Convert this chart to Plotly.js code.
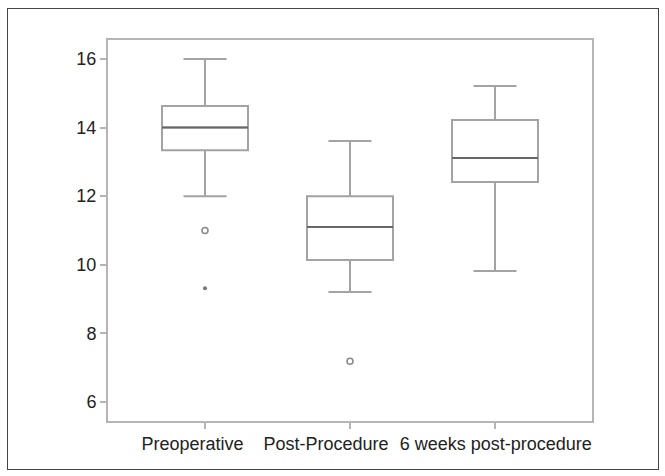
<!DOCTYPE html>
<html>
<head>
<meta charset="utf-8">
<script src="https://cdn.plot.ly/plotly-3.0.1.min.js"></script>
<style>
html,body{margin:0;padding:0;background:#fff;}
#wrap{position:relative;width:665px;height:476px;}
#chart{position:absolute;left:0;top:0;width:665px;height:476px;}
#frame{position:absolute;left:7px;top:8px;width:650px;height:460px;border:1px solid #444;pointer-events:none;}
</style>
</head>
<body>
<div id="wrap"><div id="chart"></div><div id="frame"></div></div>
<script>
// Data
const categories = ["Preoperative", "Post-Procedure", "6 weeks post-procedure"];
const lowerWhisker = [12.0, 9.21, 9.82];
const q1 = [13.34, 10.14, 12.41];
const median = [14.0, 11.10, 13.11];
const q3 = [14.63, 12.0, 14.22];
const upperWhisker = [16.0, 13.61, 15.21];
// outliers (circles) and extremes (stars)
const outlierGroup = [0, 1];
const outlierValue = [11.0, 7.19];
const extremeGroup = [0];
const extremeValue = [9.32];

const pos = categories.map((c, i) => i);
const boxWidth = 0.593;
// the reference nudges crowded labels to the left of their tick
const labelNudge = [-0.086, -0.166, 0.005];
const labelPos = pos.map((p, i) => p + labelNudge[i]);
const xRange = [-0.669, 2.669];

const traces = [];
traces.push({
  type: 'box',
  x: pos,
  q1: q1,
  median: median,
  q3: q3,
  lowerfence: lowerWhisker,
  upperfence: upperWhisker,
  width: boxWidth,
  whiskerwidth: 0.5,
  fillcolor: 'rgba(255,255,255,0)',
  line: {color: '#a3a3a3', width: 2},
  boxpoints: false,
  hoverinfo: 'skip',
  showlegend: false
});
// darker median lines
categories.forEach((c, i) => {
  traces.push({
    type: 'scatter', mode: 'lines',
    x: [pos[i] - boxWidth / 2, pos[i] + boxWidth / 2],
    y: [median[i], median[i]],
    line: {color: '#666666', width: 2},
    hoverinfo: 'skip', showlegend: false
  });
});
traces.push({
  type: 'scatter', mode: 'markers',
  x: outlierGroup, y: outlierValue,
  marker: {symbol: 'circle-open', size: 6, color: '#8a8a8a', line: {width: 1.6, color: '#8a8a8a'}},
  hoverinfo: 'skip', showlegend: false
});
traces.push({
  type: 'scatter', mode: 'markers',
  x: extremeGroup, y: extremeValue,
  marker: {symbol: 'circle', size: 4, color: '#777777'},
  hoverinfo: 'skip', showlegend: false
});
// invisible trace so the label axis is drawn
traces.push({
  type: 'scatter', mode: 'markers', xaxis: 'x2', yaxis: 'y',
  x: labelPos, y: median, marker: {opacity: 0, size: 1},
  hoverinfo: 'skip', showlegend: false
});

const layout = {
  width: 665, height: 476,
  margin: {l: 108, r: 73, t: 40, b: 55},
  paper_bgcolor: '#ffffff',
  plot_bgcolor: '#ffffff',
  font: {family: '"Liberation Sans", Arial, sans-serif', size: 18, color: '#222'},
  xaxis: {
    range: xRange,
    tickmode: 'array', tickvals: pos, ticktext: categories.map(() => ''),
    showgrid: false, zeroline: false,
    showline: true, linecolor: '#b5b5b5', linewidth: 2, mirror: true,
    ticks: 'outside', ticklen: 6, tickwidth: 2, tickcolor: '#b5b5b5'
  },
  xaxis2: {
    range: xRange, overlaying: 'x', anchor: 'y', side: 'bottom',
    tickmode: 'array', tickvals: labelPos, ticktext: categories,
    tickangle: 0, ticks: 'outside', ticklen: 6, tickcolor: 'rgba(0,0,0,0)',
    showgrid: false, zeroline: false, showline: false,
    tickfont: {size: 18, color: '#222'}
  },
  yaxis: {
    range: [5.45, 16.55],
    tickvals: [6, 8, 10, 12, 14, 16],
    showgrid: false, zeroline: false,
    showline: true, linecolor: '#b5b5b5', linewidth: 2, mirror: true,
    ticks: 'outside', ticklen: 6, tickwidth: 2, tickcolor: '#b5b5b5',
    tickfont: {size: 18, color: '#222'}
  }
};

Plotly.newPlot('chart', traces, layout, {staticPlot: true, displayModeBar: false});
</script>
</body>
</html>
